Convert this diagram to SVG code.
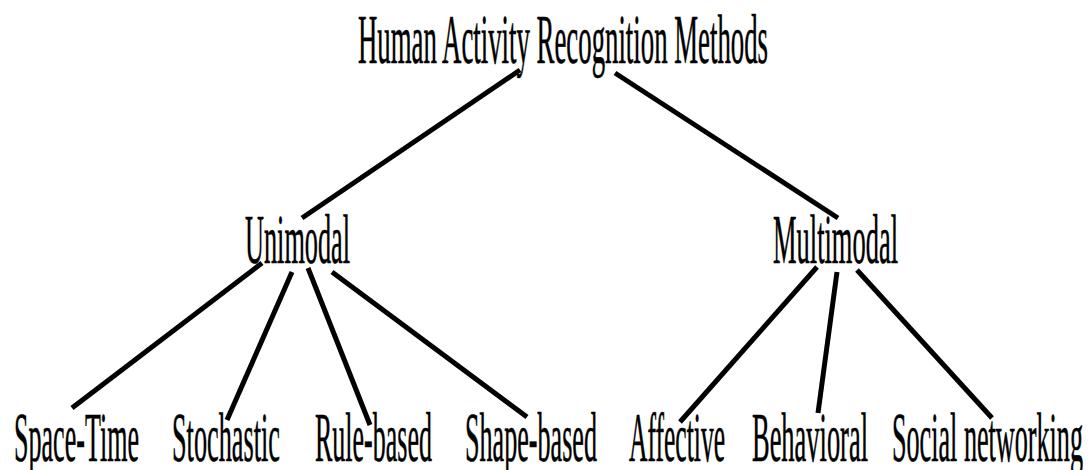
<svg xmlns="http://www.w3.org/2000/svg" width="1091" height="470" viewBox="0 0 1091 470">
<style>
text{font-family:"Liberation Serif","Times New Roman",serif;font-size:70px;fill:#000;stroke:#000;stroke-width:0.6}
.c line{stroke:#000;stroke-width:5;stroke-linecap:butt}
</style>
<rect width="1091" height="470" fill="#fff"/>
<g class="c" id="connectors">
<line x1="520" y1="70" x2="302" y2="218"/>
<line x1="615" y1="73" x2="838" y2="218"/>
<line x1="262" y1="263" x2="72" y2="408"/>
<line x1="292" y1="272" x2="227" y2="420"/>
<line x1="308" y1="268" x2="370" y2="425"/>
<line x1="332" y1="272" x2="527" y2="417"/>
<line x1="817" y1="267" x2="680" y2="422"/>
<line x1="837" y1="272" x2="818" y2="413"/>
<line x1="857" y1="270" x2="992" y2="418"/>
</g>
<g id="root"><text x="358" y="63" textLength="410" lengthAdjust="spacingAndGlyphs">Human Activity Recognition Methods</text></g>
<g id="unimodal"><text x="245" y="263" textLength="105" lengthAdjust="spacingAndGlyphs">Unimodal</text></g>
<g id="multimodal"><text x="773" y="263" textLength="125" lengthAdjust="spacingAndGlyphs">Multimodal</text></g>
<g id="space-time"><text x="14" y="461" textLength="125" lengthAdjust="spacingAndGlyphs">Space-Time</text></g>
<g id="stochastic"><text x="172" y="461" textLength="108" lengthAdjust="spacingAndGlyphs">Stochastic</text></g>
<g id="rule-based"><text x="315" y="461" textLength="117" lengthAdjust="spacingAndGlyphs">Rule-based</text></g>
<g id="shape-based"><text x="465" y="461" textLength="132" lengthAdjust="spacingAndGlyphs">Shape-based</text></g>
<g id="affective"><text x="629" y="461" textLength="96" lengthAdjust="spacingAndGlyphs">Affective</text></g>
<g id="behavioral"><text x="752" y="461" textLength="116" lengthAdjust="spacingAndGlyphs">Behavioral</text></g>
<g id="social"><text x="892" y="461" textLength="191" lengthAdjust="spacingAndGlyphs">Social networking</text></g>
</svg>
